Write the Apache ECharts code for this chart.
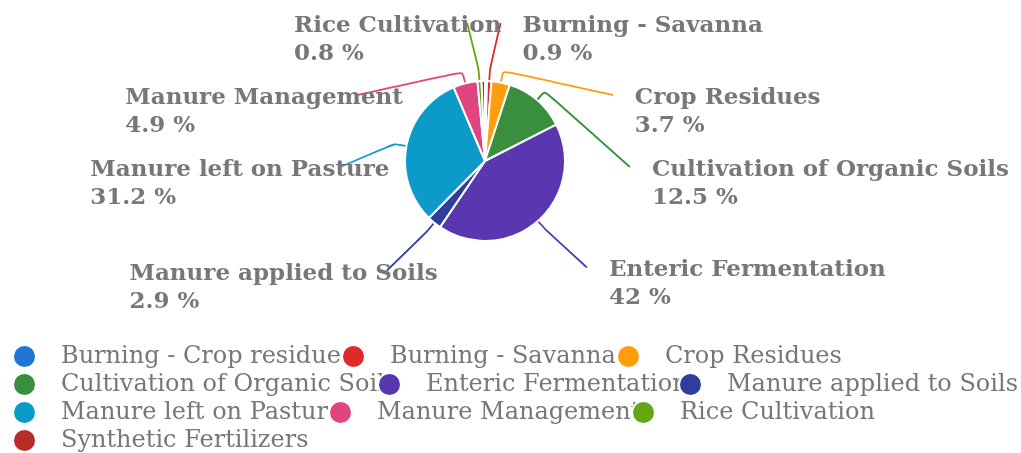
<!DOCTYPE html>
<html>
<head>
<meta charset="utf-8">
<script src="https://cdn.jsdelivr.net/npm/echarts@6/dist/echarts.min.js"></script>
<style>
html, body { margin: 0; padding: 0; background: #ffffff; overflow: hidden; }
#chart { position: absolute; left: 0; top: -13px; width: 1021px; height: 466px; }
</style>
</head>
<body>
<div id="chart"></div>
<script>
// ---- data ----
const categories = [
  'Burning - Crop residues',
  'Burning - Savanna',
  'Crop Residues',
  'Cultivation of Organic Soils',
  'Enteric Fermentation',
  'Manure applied to Soils',
  'Manure left on Pasture',
  'Manure Management',
  'Rice Cultivation',
  'Synthetic Fertilizers'
];
const shares = [0.4, 0.9, 3.7, 12.5, 42.0, 2.9, 31.2, 4.9, 0.8, 0.7];

// ---- styling / layout ----
const sliceColors = ['#1f75d4', '#e02a2a', '#ff9e0d', '#3a8f3e', '#5b36b1',
                     '#2f3d9f', '#0c9ac8', '#e0467d', '#66a614', '#b72b2b'];
const SHIFT = 13;               // the chart box starts 13px above the window
const CX = 485, CY = 161 + SHIFT, R = 80;
const legendSlots = [[12, 344], [341, 344], [616, 344],
                     [12, 372], [377, 372], [678, 372],
                     [12, 400], [328, 400], [631, 400],
                     [12, 428]];

const chart = echarts.init(document.getElementById('chart'), null, { renderer: 'canvas' });

const legends = categories.map(function (name, i) {
  return {
    data: [name],
    left: legendSlots[i][0],
    top: legendSlots[i][1] + SHIFT,
    padding: 0,
    orient: 'horizontal',
    icon: 'circle',
    itemWidth: 23,
    itemHeight: 23,
    itemGap: 0,
    textStyle: { fontFamily: 'DejaVu Serif', fontSize: 24, color: '#777777', padding: [0, 0, 0, 20] }
  };
});

const option = {
  animation: false,
  backgroundColor: '#ffffff',
  legend: legends,
  series: [{
    type: 'pie',
    center: [CX, CY],
    radius: R,
    startAngle: 90,
    clockwise: true,
    percentPrecision: 1,
    minShowLabelAngle: 2.7,
    avoidLabelOverlap: true,
    itemStyle: { borderColor: '#ffffff', borderWidth: 2 },
    emphasis: { scale: false },
    label: {
      show: true,
      position: 'outside',
      formatter: '{b}\n{d} %',
      fontFamily: 'DejaVu Serif',
      fontWeight: 'bold',
      fontSize: 23,
      color: '#777777',
      lineHeight: 28,
      padding: [7, 0, 7, 0],
      backgroundColor: 'rgba(0,0,0,0)'
    },
    labelLine: { show: true, length: 62, length2: 8, smooth: 0.2, lineStyle: { width: 1.8 } },
    labelLayout: function (p) {
      const pts = p.labelLinePoints;
      if (!pts || pts.length < 3) { return {}; }
      const edge = pts[0], end = pts[2];
      const dx = edge[0] - CX, dy = edge[1] - CY;
      const d = Math.sqrt(dx * dx + dy * dy) || 1;
      const kink = [edge[0] + dx / d * 12, edge[1] + dy / d * 12];
      const onRight = dx >= 0;
      return {
        x: onRight ? end[0] + 22 : end[0] - 0.835 * p.labelRect.width,
        y: end[1] + 17,
        align: 'left',
        verticalAlign: 'middle',
        labelLinePoints: [edge, kink, end]
      };
    },
    data: categories.map(function (name, i) {
      return { name: name, value: shares[i], itemStyle: { color: sliceColors[i] } };
    })
  }]
};
chart.setOption(option);
</script>
</body>
</html>
